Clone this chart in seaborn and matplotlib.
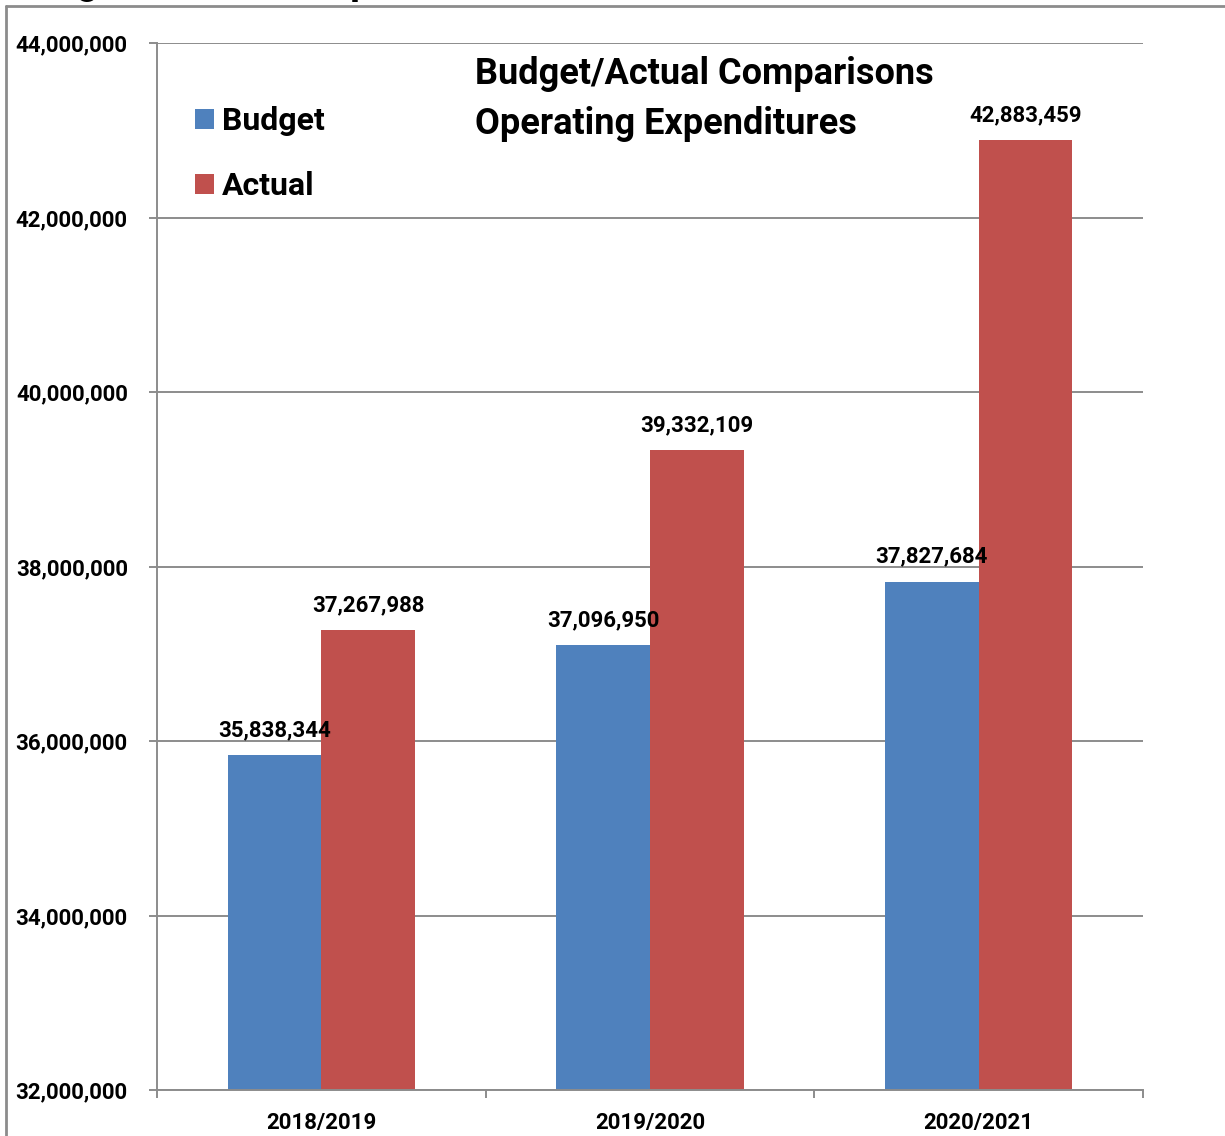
import matplotlib
matplotlib.use("Agg")
import matplotlib.pyplot as plt
import seaborn as sns
import pandas as pd
from matplotlib.patches import Patch
from matplotlib.lines import Line2D
from matplotlib.ticker import FixedLocator

years = ["2018/2019", "2019/2020", "2020/2021"]
budget = [35838344, 37096950, 37827684]
actual = [37267988, 39332109, 42883459]
series_names = ["Budget", "Actual"]
colors = ["#4F81BD", "#C0504D"]
yticks = [32000000, 34000000, 36000000, 38000000, 40000000, 42000000, 44000000]
ytick_labels = ["32,000,000", "34,000,000", "36,000,000", "38,000,000",
                "40,000,000", "42,000,000", "44,000,000"]

df = pd.DataFrame({
    "year": years * 2,
    "value": budget + actual,
    "series": [series_names[0]] * len(years) + [series_names[1]] * len(years),
})

sns.set_style("white")
plt.rcParams["font.family"] = ["Roboto", "DejaVu Sans"]
plt.rcParams["font.weight"] = "bold"
plt.rcParams["text.color"] = "black"
plt.rcParams["xtick.labelcolor"] = "black"
plt.rcParams["ytick.labelcolor"] = "black"

fig = plt.figure(figsize=(12.25, 11.36), dpi=100)
ax = fig.add_axes([157/1225, 1-1090/1136, (1143-157)/1225, (1090-43)/1136])

sns.barplot(data=df, x="year", y="value", hue="series", palette=colors,
            width=0.57, ax=ax, legend=False, saturation=1, linewidth=0)

ax.set_ylim(yticks[0], yticks[-1])
ax.set_xlim(-0.5, len(years) - 0.5)
ax.set_yticks(yticks, labels=ytick_labels, fontweight="bold", fontsize=16, color="black")
ax.set_xticks(range(len(years)), labels=years, fontweight="bold", fontsize=16, color="black")
ax.grid(axis="y", color="#8c8c8c", linewidth=1.4)
ax.set_axisbelow(True)
ax.set_xlabel("")
ax.set_ylabel("")

for s in ["top", "right"]:
    ax.spines[s].set_visible(False)
for s in ["left", "bottom"]:
    ax.spines[s].set_color("#8c8c8c")
    ax.spines[s].set_linewidth(1.4)

ax.tick_params(axis="y", which="major", length=6, width=1.4, color="#8c8c8c",
               direction="out", pad=15, left=True)
ax.tick_params(axis="x", which="major", length=0, pad=16)
ax.xaxis.set_minor_locator(FixedLocator([-0.5, 0.5, 1.5, 2.5]))
ax.tick_params(axis="x", which="minor", length=6, width=1.4, color="#8c8c8c",
               direction="out", bottom=True)

for cont in ax.containers:
    ax.bar_label(cont, labels=[f"{v:,.0f}" for v in cont.datavalues],
                 padding=10, fontsize=16, fontweight="bold", color="black")

handles = [Patch(facecolor=c, edgecolor="none") for c in colors]
leg = ax.legend(handles, series_names, loc="upper left", bbox_to_anchor=(0.009, 0.967),
                frameon=False, handlelength=0.6, handleheight=0.6,
                handletextpad=0.25, labelspacing=1.1, prop={"weight": "bold", "size": 23})
for t in leg.get_texts():
    t.set_color("black")

fig.text(475/1225, 1-99/1136, "Budget/Actual Comparisons\nOperating Expenditures",
         fontsize=26, fontweight="bold", ha="left", va="center", linespacing=1.5,
         color="black")

# clipped heading at top edge
fig.text(8/1225, 1 + 6/1136, "Budget/Actual Comparisons", fontsize=28,
         fontweight="bold", ha="left", va="baseline", color="black")

# outer frame lines
fig.add_artist(Line2D([6/1225, 6/1225], [0, 1-6/1136], transform=fig.transFigure,
                      color="#8c8c8c", linewidth=2))
fig.add_artist(Line2D([6/1225, 1], [1-6/1136, 1-6/1136], transform=fig.transFigure,
                      color="#8c8c8c", linewidth=2))

fig.savefig("out.png", dpi=100)
